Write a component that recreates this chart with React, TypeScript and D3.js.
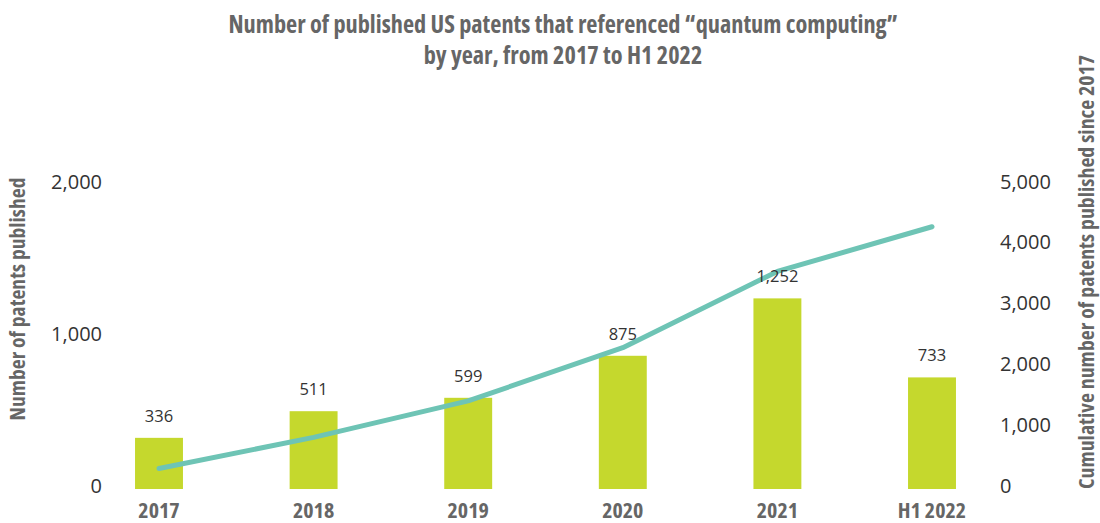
import React from "react";
import * as d3 from "d3";

const categories = ["2017", "2018", "2019", "2020", "2021", "H1 2022"];
const patents = [336, 511, 599, 875, 1252, 733];
const cumulative = [336, 847, 1446, 2321, 3573, 4306];
const leftTicks = [0, 1000, 2000];
const rightTicks = [0, 1000, 2000, 3000, 4000, 5000];

const W = 1100;
const H = 523;
const COND = "'Open Sans', 'Liberation Sans Narrow', sans-serif";

export default function App() {
  const x = d3
    .scaleBand<string>()
    .domain(categories)
    .range([81.7, 1009.3])
    .paddingInner(0.69)
    .paddingOuter(0.345);
  const yL = d3.scaleLinear().domain([0, 2000]).range([489, 184.5]);
  const yR = d3.scaleLinear().domain([0, 5000]).range([489, 184.5]);
  const fmt = d3.format(",");
  const cx = (c: string) => (x(c) as number) + x.bandwidth() / 2;
  const line = d3
    .line<number>()
    .x((_, i) => cx(categories[i]))
    .y((d) => yR(d));

  return (
    <svg width={W} height={H} style={{ position: "absolute", left: 0, top: 0 }}>
      <rect width={W} height={H} fill="#fff" />
      <g fontFamily={COND} fontWeight={700} fill="#666" style={{ fontStretch: "75%" }} fontSize={24.3} textAnchor="middle">
        <text x={563} y={33}>Number of published US patents that referenced “quantum computing”</text>
        <text x={563} y={64}>by year, from 2017 to H1 2022</text>
      </g>
      <text
        transform={`translate(25,299) rotate(-90)`}
        textAnchor="middle"
        fontFamily={COND}
        fontWeight={700}
        fontSize={21.6}
        fill="#666"
        style={{ fontStretch: "75%" }}
      >
        Number of patents published
      </text>
      <text
        transform={`translate(1094,272) rotate(-90)`}
        textAnchor="middle"
        fontFamily={COND}
        fontWeight={700}
        fontSize={21.8}
        fill="#666"
        style={{ fontStretch: "75%" }}
      >
        Cumulative number of patents published since 2017
      </text>
      <g fontFamily="'Open Sans', sans-serif" fontSize={20} fill="#333">
        {leftTicks.map((t) => (
          <text key={t} x={102} y={yL(t) - 3} dy="0.35em" textAnchor="end">
            {fmt(t)}
          </text>
        ))}
        {rightTicks.map((t) => (
          <text key={t} x={1000} y={yR(t) - 3} dy="0.35em" textAnchor="start">
            {fmt(t)}
          </text>
        ))}
      </g>
      {categories.map((c, i) => (
        <rect
          key={c}
          x={x(c)}
          y={yL(patents[i])}
          width={x.bandwidth()}
          height={yL(0) - yL(patents[i])}
          fill="#c5d82d"
        />
      ))}
      <path d={line(cumulative) || ""} fill="none" stroke="#6ec4b5" strokeWidth={5} strokeLinecap="round" strokeLinejoin="round" />
      <g fontFamily="'Open Sans', sans-serif" fontSize={16.5} fill="#333" textAnchor="middle">
        {categories.map((c, i) => (
          <text key={c} x={cx(c)} y={yL(patents[i]) - 16}>
            {fmt(patents[i])}
          </text>
        ))}
      </g>
      <g fontFamily={COND} fontWeight={700} fontSize={22} fill="#666" textAnchor="middle" style={{ fontStretch: "75%" }}>
        {categories.map((c) => (
          <text key={c} x={cx(c)} y={518}>
            {c}
          </text>
        ))}
      </g>
    </svg>
  );
}
